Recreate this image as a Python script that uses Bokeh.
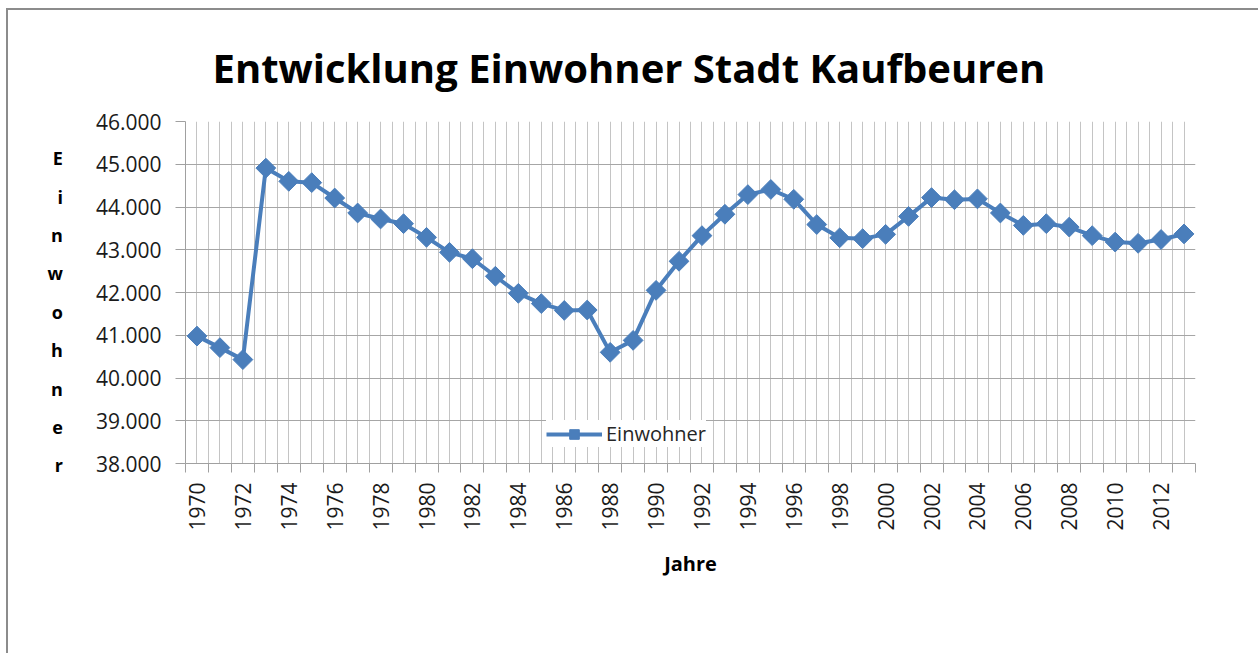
import math
from bokeh.plotting import figure
from bokeh.models import (Range1d, FixedTicker, Title, Legend, LegendItem)
from bokeh.embed import file_html
from bokeh.resources import INLINE

# ---- data ----
years = list(range(1970, 2014))
einwohner = [40980, 40710, 40430, 44910, 44600, 44570, 44210, 43860, 43720, 43610,
             43290, 42940, 42790, 42380, 41980, 41740, 41580, 41590, 40600, 40880,
             42050, 42730, 43330, 43830, 44290, 44410, 44180, 43590, 43280, 43260,
             43360, 43780, 44220, 44170, 44190, 43860, 43570, 43610, 43530, 43330,
             43180, 43150, 43240, 43370]
y_ticks = [38000, 39000, 40000, 41000, 42000, 43000, 44000, 45000, 46000]
y_tick_labels = ["38.000", "39.000", "40.000", "41.000", "42.000", "43.000",
                 "44.000", "45.000", "46.000"]
x_label_years = years[::2]
title_text = "Entwicklung Einwohner Stadt Kaufbeuren"
x_title = "Jahre"
y_title = "Einwohner"
series_name = "Einwohner"

BLUE = "#4a7ebb"
FONT = "Open Sans"

W = 1250
ML, MT = 177, 111
FW, FH = 1010, 342

p = figure(frame_width=FW, frame_height=FH, output_backend="svg", toolbar_location=None,
           x_range=Range1d(years[0] - 0.5, years[-1] + 0.5),
           y_range=Range1d(y_ticks[0], y_ticks[-1]),
           min_border_left=ML, min_border_top=MT,
           min_border_right=W - ML - FW, min_border_bottom=190)
p.styles = {"margin-left": "6px", "margin-top": "8px",
            "border-top": "2px solid #8c8c8c", "border-left": "2px solid #8c8c8c"}
p.outline_line_color = None
p.background_fill_color = "white"
p.border_fill_color = "white"

# grids
halves = [y - 0.5 for y in years] + [years[-1] + 0.5] + years
p.xgrid.ticker = FixedTicker(ticks=halves)
p.xgrid.grid_line_color = "#c4c4c4"
p.xgrid.grid_line_width = 1
p.ygrid.ticker = FixedTicker(ticks=y_ticks)
p.ygrid.grid_line_color = "#a6a6a6"
p.ygrid.grid_line_width = 1

# x axis
xa = p.xaxis[0]
xa.ticker = FixedTicker(ticks=x_label_years,
                        minor_ticks=[y - 0.5 for y in years] + [years[-1] + 0.5])
xa.major_tick_out = 0
xa.major_tick_in = 0
xa.minor_tick_out = 9
xa.minor_tick_in = 0
xa.minor_tick_line_color = "#a0a0a0"
xa.axis_line_color = "#a0a0a0"
xa.major_label_orientation = math.pi / 2
xa.major_label_text_font = FONT
xa.major_label_text_font_size = "21px"
xa.major_label_text_color = "#1a1a1a"
xa.major_label_standoff = 10
xa.axis_label = x_title
xa.axis_label_text_font = FONT
xa.axis_label_text_font_style = "bold"
xa.axis_label_text_font_size = "20px"
xa.axis_label_text_color = "black"
xa.axis_label_standoff = 16

# y axis
ya = p.yaxis[0]
ya.ticker = FixedTicker(ticks=y_ticks)
ya.major_label_overrides = {t: l for t, l in zip(y_ticks, y_tick_labels)}
ya.major_tick_out = 10
ya.major_tick_in = 0
ya.minor_tick_out = 0
ya.minor_tick_in = 0
ya.major_tick_line_color = "#a0a0a0"
ya.axis_line_color = "#a0a0a0"
ya.major_label_text_font = FONT
ya.major_label_text_font_size = "21px"
ya.major_label_text_color = "#1a1a1a"
ya.major_label_standoff = 14
ya.axis_label = "\n".join([""] + list(y_title))
ya.axis_label_orientation = "horizontal"
ya.axis_label_text_font = FONT
ya.axis_label_text_font_style = "bold"
ya.axis_label_text_font_size = "18px"
ya.axis_label_text_line_height = 1.6
ya.axis_label_text_color = "black"
ya.axis_label_standoff = 30

# series
ln = p.line(years, einwohner, line_color=BLUE, line_width=4)
mk = p.scatter(years, einwohner, marker="square", angle=math.pi / 4, size=14,
               fill_color=BLUE, line_color=BLUE)

legend = Legend(items=[LegendItem(label=series_name, renderers=[ln, mk])],
                location=(361, 16), orientation="horizontal",
                glyph_width=56, glyph_height=24, label_standoff=4,
                padding=4, margin=0, border_line_color=None,
                background_fill_color="white", background_fill_alpha=1,
                label_text_font=FONT, label_text_font_size="20px",
                label_text_color="#262626")
p.add_layout(legend, "center")

p.add_layout(Title(text=title_text, align="left", offset=27,
                   text_font=FONT, text_font_style="bold",
                   text_font_size="40px", text_color="black", standoff=54), "above")

open("out.html", "w").write(file_html(p, INLINE))
